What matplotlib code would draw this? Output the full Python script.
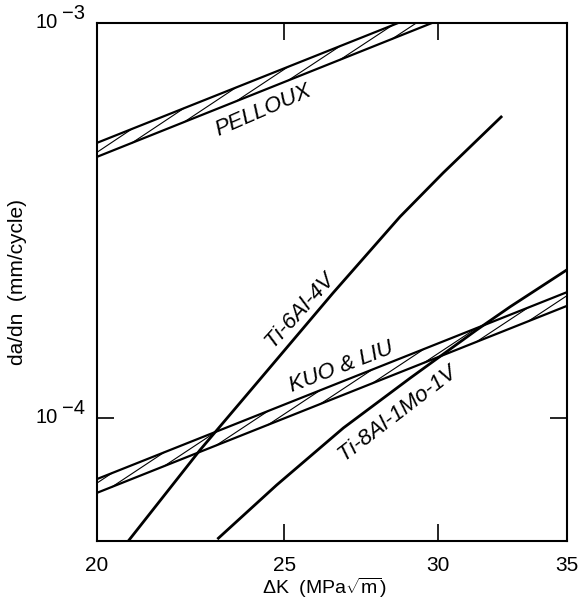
import matplotlib
matplotlib.use('Agg')
import matplotlib.pyplot as plt
from matplotlib.ticker import NullLocator
import numpy as np

# fonts
plt.rcParams['font.family'] = ['Liberation Sans', 'DejaVu Sans']
plt.rcParams['mathtext.fontset'] = 'custom'
plt.rcParams['mathtext.rm'] = 'Liberation Sans'
plt.rcParams['mathtext.it'] = 'Liberation Sans:italic'

# values: dK (MPa sqrt m) vs da/dn (mm/cycle)
ti6al4v_dk = [20.78, 22.61, 24.28, 26.49, 28.69, 30.20, 32.36]
ti6al4v_dadn = [4.90e-5, 8.28e-5, 1.25e-4, 2.07e-4, 3.23e-4, 4.17e-4, 5.78e-4]

ti8al_dk = [23.11, 24.77, 26.82, 29.04, 31.44, 32.71, 35.0]
ti8al_dadn = [4.95e-5, 6.75e-5, 9.42e-5, 1.26e-4, 1.67e-4, 1.91e-4, 2.37e-4]

# scatter bands (power law limits)
band_dk = [20, 35]
pelloux_upper = [4.97e-4, 1.48e-3]
pelloux_lower = [4.58e-4, 1.37e-3]
kuo_liu_upper = [6.99e-5, 2.08e-4]
kuo_liu_lower = [6.45e-5, 1.92e-4]

x_ticks = [20, 25, 30, 35]
y_ticks = [1e-3, 1e-4]
y_tick_exps = ['\u22123', '\u22124']

label_text = ['PELLOUX', 'KUO & LIU', 'Ti-6Al-4V', 'Ti-8Al-1Mo-1V']
label_dk = [24.39, 26.77, 25.47, 28.59]
label_dadn = [6.02e-4, 1.344e-4, 1.875e-4, 1.028e-4]
label_rot = [23.5, 21, 48, 37.5]


def power_law(k, ys):
    # straight line in log-log through the two band end values
    slope = np.log(ys[1] / ys[0]) / np.log(band_dk[1] / band_dk[0])
    return ys[0] * (k / band_dk[0]) ** slope


def draw_band(ax, lower, upper, k_start, step=1.0639):
    ax.plot(band_dk, upper, color='black', lw=1.6, solid_capstyle='butt')
    ax.plot(band_dk, lower, color='black', lw=1.6, solid_capstyle='butt')
    # thin twisted hatch between the two limits
    k = k_start
    while k < band_dk[1]:
        k2 = k * step
        ax.plot([k, k2], [power_law(k, lower), power_law(k2, upper)],
                color='black', lw=0.8)
        k = k2


fig = plt.figure(figsize=(5.79, 6.03), dpi=100, facecolor='white')
ax = fig.add_axes([0.16753, 0.10282, 0.81174, 0.85904])
ax.set_xscale('log')
ax.set_yscale('log')

draw_band(ax, pelloux_lower, pelloux_upper, 19.60)
draw_band(ax, kuo_liu_lower, kuo_liu_upper, 19.14)

ax.plot(ti6al4v_dk, ti6al4v_dadn, color='black', lw=2.0)
ax.plot(ti8al_dk, ti8al_dadn, color='black', lw=2.0)

for txt, k, d, r in zip(label_text, label_dk, label_dadn, label_rot):
    ax.text(k, d, txt, rotation=r, rotation_mode='anchor', ha='center',
            va='center', fontsize=16, style='italic')

ax.set_xlim(20, 35)
ax.set_ylim(4.87e-5, 1e-3)

ax.set_xticks(x_ticks)
ax.set_xticklabels([str(t) for t in x_ticks])
ax.set_yticks(y_ticks)
ax.xaxis.set_minor_locator(NullLocator())
ax.yaxis.set_minor_locator(NullLocator())
ax.tick_params(which='major', direction='in', length=12, width=1.2,
               top=True, right=True, labelsize=15, pad=11)
ax.tick_params(axis='y', labelleft=False)

# 10^-n labels with full size exponent
for val, exp in zip(y_ticks, y_tick_exps):
    ax.annotate('10', xy=(0, val), xycoords=('axes fraction', 'data'),
                xytext=(-28, 0), textcoords='offset points',
                ha='right', va='center', fontsize=14.5)
    ax.annotate(exp, xy=(0, val), xycoords=('axes fraction', 'data'),
                xytext=(-25.5, 6.5), textcoords='offset points',
                ha='left', va='center', fontsize=14.5)

for sp in ax.spines.values():
    sp.set_linewidth(1.5)

ax.set_xlabel('\u0394K  (MPa$\\sqrt{\\mathregular{m}}$)', fontsize=14)
ax.xaxis.set_label_coords(0.483, -0.067)
ax.set_ylabel('da/dn  (mm/cycle)', fontsize=15)
ax.yaxis.set_label_coords(-0.149, 0.5)

plt.savefig('out.png', dpi=100, facecolor='white')
plt.close()
